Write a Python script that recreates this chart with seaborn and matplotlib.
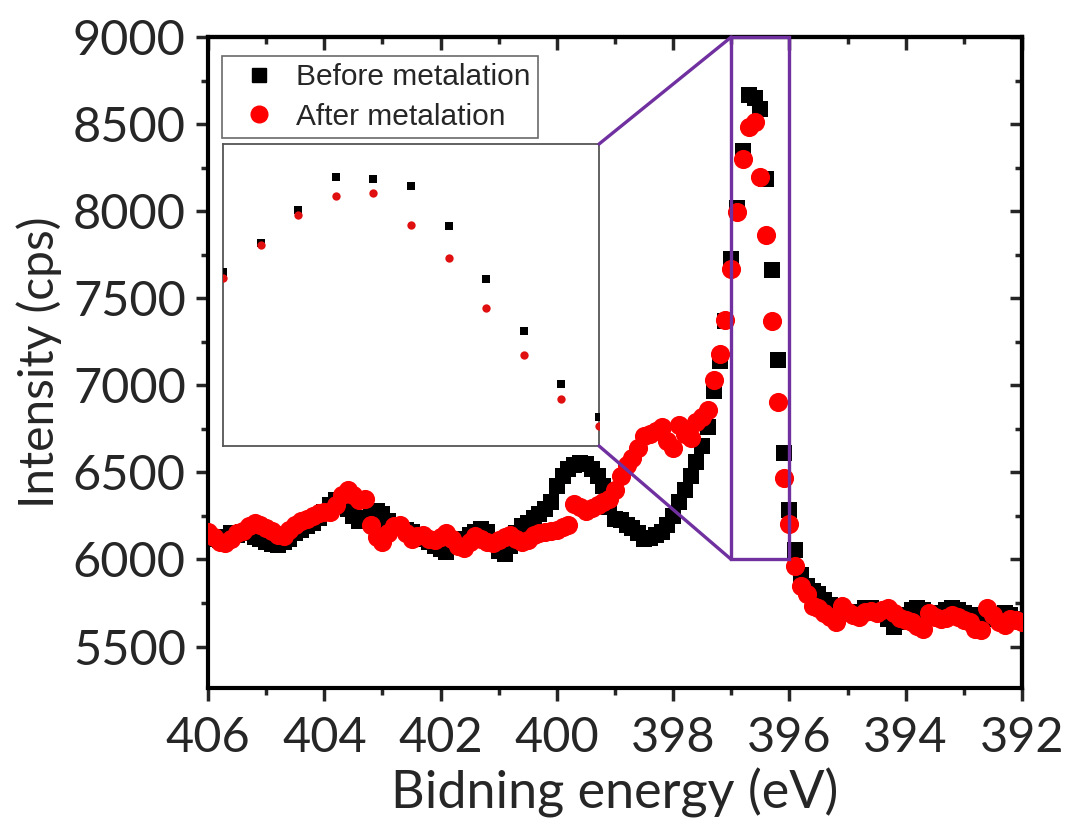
import numpy as np
import pandas as pd
import matplotlib
matplotlib.use("Agg")
import matplotlib.pyplot as plt
import seaborn as sns
from matplotlib.patches import Rectangle, ConnectionPatch
from matplotlib.lines import Line2D
from matplotlib.ticker import MultipleLocator

# N 1s region, binding energy grid (eV), 0.1 eV step from 406 down to 392
energy = np.round(np.linspace(406.0, 392.0, 141), 1)

before_metalation = [
    6140, 6120, 6110, 6130, 6150, 6140, 6160, 6150, 6130, 6120,
    6100, 6090, 6085, 6100, 6120, 6150, 6170, 6190, 6210, 6240,
    6270, 6310, 6340, 6320, 6290, 6250, 6220, 6240, 6270, 6280,
    6260, 6220, 6200, 6180, 6170, 6160, 6140, 6120, 6100, 6080,
    6060, 6045, 6070, 6100, 6120, 6140, 6160, 6175, 6160, 6100,
    6050, 6030, 6080, 6150, 6190, 6210, 6240, 6260, 6290, 6330,
    6420, 6480, 6520, 6540, 6555, 6550, 6520, 6480, 6420, 6300,
    6235, 6225, 6200, 6180, 6150, 6115, 6125, 6140, 6155, 6200,
    6250, 6330, 6400, 6480, 6560, 6650, 6760, 6970, 7140, 7370,
    7725, 8020, 8344, 8669, 8649, 8586, 8185, 7662, 7145, 6613,
    6285, 6055, 5910, 5850, 5820, 5800, 5770, 5740, 5720, 5710,
    5700, 5690, 5700, 5720, 5720, 5710, 5690, 5660, 5610, 5640,
    5680, 5710, 5720, 5710, 5690, 5680, 5690, 5710, 5720, 5710,
    5690, 5680, 5680, 5670, 5660, 5670, 5680, 5690, 5680, 5660,
    5650,
]

after_metalation = [
    6160, 6130, 6100, 6095, 6120, 6150, 6165, 6190, 6210, 6200,
    6180, 6165, 6140, 6135, 6170, 6200, 6220, 6230, 6250, 6265,
    6270, 6275, 6310, 6370, 6400, 6370, 6340, 6350, 6200, 6130,
    6100, 6150, 6190, 6200, 6150, 6115, 6135, 6140, 6120, 6110,
    6130, 6150, 6120, 6080, 6065, 6100, 6135, 6120, 6100, 6095,
    6110, 6130, 6140, 6120, 6100, 6110, 6140, 6150, 6155, 6165,
    6170, 6185, 6200, 6320, 6300, 6280, 6295, 6310, 6330, 6345,
    6400, 6480, 6540, 6580, 6640, 6710, 6720, 6740, 6760, 6680,
    6640, 6770, 6720, 6700, 6790, 6820, 6860, 7030, 7180, 7377,
    7666, 7994, 8298, 8483, 8510, 8195, 7864, 7368, 6904, 6467,
    6201, 5965, 5850, 5800, 5730, 5720, 5690, 5670, 5640, 5735,
    5700, 5680, 5670, 5700, 5705, 5690, 5710, 5720, 5690, 5665,
    5650, 5640, 5620, 5600, 5690, 5670, 5660, 5665, 5680, 5670,
    5650, 5640, 5600, 5595, 5720, 5680, 5640, 5625, 5660, 5650,
    5640,
]

series_labels = ["Before metalation", "After metalation"]
yticks = [5500, 6000, 6500, 7000, 7500, 8000, 8500, 9000]
xticks = [406, 404, 402, 400, 398, 396, 394, 392]
zoom_window = (397.0, 396.0, 6000, 9000)  # x_from, x_to, y_low, y_high

df = pd.DataFrame({"energy": energy,
                   "before": before_metalation,
                   "after": after_metalation})

sns.set_style("white")
plt.rcParams["font.family"] = ["Lato", "DejaVu Sans"]

PURPLE = "#7030a0"
RED = "#ff0000"

fig = plt.figure(figsize=(10.68, 8.21), dpi=100)
ax = fig.add_axes([0.1948, 0.1620, 0.7621, 0.7929])

sns.scatterplot(data=df, x="energy", y="before", ax=ax, marker="s",
                color="black", s=140, linewidth=0, zorder=3, legend=False)
sns.scatterplot(data=df, x="energy", y="after", ax=ax, marker="o",
                color=RED, s=190, linewidth=0, zorder=4, legend=False)

ax.set_xlim(406, 392)
ax.set_ylim(5262, 9000)
ax.set_xticks(xticks)
ax.set_yticks(yticks)
ax.xaxis.set_minor_locator(MultipleLocator(1))
ax.yaxis.set_minor_locator(MultipleLocator(250))

for sp in ax.spines.values():
    sp.set_linewidth(3)
    sp.set_color("black")

ax.tick_params(axis="both", which="major", direction="out", length=9,
               width=2.5, labelsize=35, top=False, right=False,
               bottom=True, left=True)
ax.tick_params(axis="x", which="major", pad=11)
ax.tick_params(axis="y", which="major", pad=7)
ax.tick_params(axis="both", which="minor", direction="out", length=5,
               width=2.5, top=False, right=False, bottom=True, left=True)

# mirrored inward ticks on the top and right edges
top = ax.secondary_xaxis("top")
top.set_xticks(xticks)
top.xaxis.set_minor_locator(MultipleLocator(1))
top.tick_params(which="major", direction="in", length=9, width=2.5, labeltop=False)
top.tick_params(which="minor", direction="in", length=5, width=2.5)
top.spines["top"].set_linewidth(3)
right = ax.secondary_yaxis("right")
right.set_yticks(yticks)
right.yaxis.set_minor_locator(MultipleLocator(250))
right.tick_params(which="major", direction="in", length=9, width=2.5, labelright=False)
right.tick_params(which="minor", direction="in", length=5, width=2.5)
right.spines["right"].set_linewidth(3)

ax.set_xlabel("Bidning energy (eV)", fontsize=37.5, labelpad=6)
ax.set_ylabel("Intensity (cps)", fontsize=34.5, labelpad=8)

# zoom window on the main peak
x0, x1, y0, y1 = zoom_window
rect = Rectangle((x1, y0), x0 - x1, y1 - y0, fill=False, edgecolor=PURPLE,
                 linewidth=2.4, zorder=6, clip_on=False)
ax.add_patch(rect)

# inset with the magnified peak
axin = fig.add_axes([0.2088, 0.4568, 0.3521, 0.3678])
sub = df[(df["energy"] <= x0) & (df["energy"] >= x1)]
sns.scatterplot(data=sub, x="energy", y="before", ax=axin, marker="s",
                color="black", s=28, linewidth=0, zorder=3, legend=False)
sns.scatterplot(data=sub, x="energy", y="after", ax=axin, marker="o",
                color="#e01010", s=36, linewidth=0, zorder=4, legend=False)
axin.set_xlim(x0, x1)
axin.set_ylim(y0, y1)
axin.set_xticks([])
axin.set_yticks([])
axin.set_xlabel("")
axin.set_ylabel("")
for sp in axin.spines.values():
    sp.set_linewidth(1.3)
    sp.set_color("#555555")

for corner_in, corner_main in [((1, 1), (x0, y1)), ((1, 0), (x0, y0))]:
    con = ConnectionPatch(xyA=corner_in, coordsA=axin.transAxes,
                          xyB=corner_main, coordsB=ax.transData,
                          color=PURPLE, linewidth=2.4, zorder=7)
    fig.add_artist(con)

handles = [
    Line2D([], [], marker="s", color="black", linestyle="none", markersize=10.5),
    Line2D([], [], marker="o", color=RED, linestyle="none", markersize=12),
]
leg = fig.legend(handles, series_labels, loc="upper left",
                 bbox_to_anchor=(0.2079, 0.9318), bbox_transform=fig.transFigure,
                 frameon=True, fancybox=False, edgecolor="#444444",
                 prop={"family": "Liberation Sans", "size": 21.5},
                 handlelength=2.0, handletextpad=0.25, borderpad=0.24,
                 labelspacing=0.38, borderaxespad=0)
leg.get_frame().set_linewidth(1.2)

fig.savefig("out.png", dpi=100)
